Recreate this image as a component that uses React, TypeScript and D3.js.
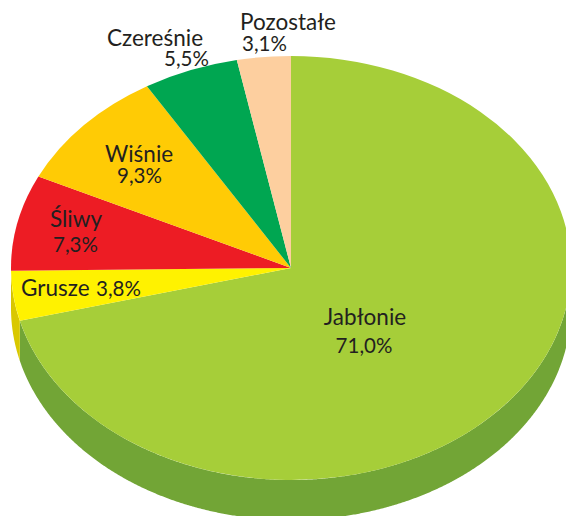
import * as d3 from "d3";
import React from "react";

const categories = ["Jabłonie", "Grusze", "Śliwy", "Wiśnie", "Czereśnie", "Pozostałe"];
const values = [71.0, 3.8, 7.3, 9.3, 5.5, 3.1];
const valueLabels = ["71,0%", "3,8%", "7,3%", "9,3%", "5,5%", "3,1%"];
const topColors = ["#a6ce39", "#fff200", "#ed1c24", "#ffcb05", "#00a651", "#fdcf9f"];
const sideColors = ["#72a536", "#d9c800", "#b5151b", "#c99f00", "#007f3e", "#c9a57f"];

const width = 566;
const height = 516;
const cx = 291;
const cy = 268;
const rx = 280;
const ry = 212;
const depth = 40;
const nameSize = 22.5;
const valueSize = 20.5;
const textColor = "#231f20";

// x = start of text, y = baseline
const nameSpots = [
  { x: 365, y: 325, anchor: "middle" },
  { x: 21, y: 296, anchor: "start" },
  { x: 50, y: 227, anchor: "start" },
  { x: 105, y: 162, anchor: "start" },
  { x: 107, y: 46, anchor: "start" },
  { x: 240, y: 30, anchor: "start" },
];
const valueSpots = [
  { x: 364, y: 353, anchor: "middle" },
  { x: 96, y: 296, anchor: "start" },
  { x: 53, y: 252, anchor: "start" },
  { x: 117, y: 183, anchor: "start" },
  { x: 164, y: 66, anchor: "start" },
  { x: 242, y: 51, anchor: "start" },
];

export default function App() {
  const slices = d3.pie<number>().sort(null)(values);
  const arc = d3.arc<d3.PieArcDatum<number>>().innerRadius(0).outerRadius(rx);

  // boczna scianka - tylko dolna polowa elipsy jest widoczna
  const wall = d3
    .area<number>()
    .x((a) => Math.sin(a) * rx)
    .y0((a) => -Math.cos(a) * ry)
    .y1((a) => -Math.cos(a) * ry + depth);

  const wallPath = (s: d3.PieArcDatum<number>) => {
    const from = Math.max(s.startAngle, Math.PI / 2);
    const to = Math.min(s.endAngle, (3 * Math.PI) / 2);
    if (to <= from) return null;
    return wall(d3.range(from, to, 0.005).concat(to));
  };

  return (
    <svg
      width={width}
      height={height}
      style={{ position: "absolute", left: 0, top: 0, background: "#fff" }}
      fontFamily="Lato, 'Open Sans', sans-serif"
      fill={textColor}
    >
      <g transform={`translate(${cx},${cy})`}>
        {slices.map((s, i) => {
          const d = wallPath(s);
          return d ? <path key={i} d={d} fill={sideColors[i]} /> : null;
        })}
        <g transform={`scale(1,${ry / rx})`}>
          {slices.map((s, i) => (
            <path key={i} d={arc(s) as string} fill={topColors[i]} />
          ))}
        </g>
      </g>
      {categories.map((c, i) => (
        <text key={c} x={nameSpots[i].x} y={nameSpots[i].y} textAnchor={nameSpots[i].anchor} fontSize={nameSize}>
          {c}
        </text>
      ))}
      {valueLabels.map((v, i) => (
        <text key={v} x={valueSpots[i].x} y={valueSpots[i].y} textAnchor={valueSpots[i].anchor} fontSize={valueSize}>
          {v}
        </text>
      ))}
    </svg>
  );
}
